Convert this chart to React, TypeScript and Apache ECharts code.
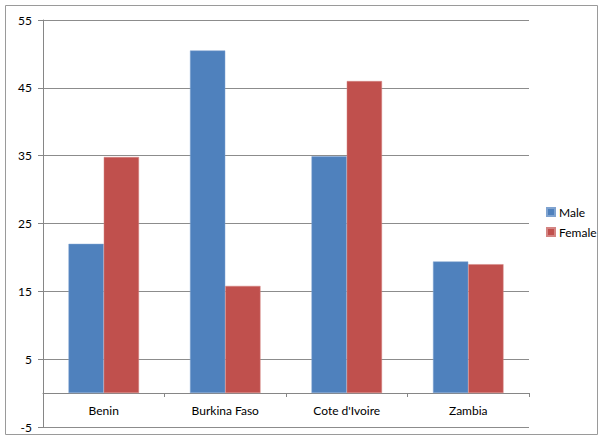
import React, { useEffect, useRef } from "react";
import * as echarts from "echarts";

const categories = ["Benin", "Burkina Faso", "Cote d'Ivoire", "Zambia"];
const maleValues = [22.0, 50.5, 34.9, 19.4];
const femaleValues = [34.8, 15.8, 46.0, 19.0];
const seriesNames = ["Male", "Female"];

export default function App() {
  const ref = useRef<HTMLDivElement>(null);
  useEffect(() => {
    if (!ref.current) return;
    const chart = echarts.init(ref.current, undefined, { renderer: "svg" });
    const font = "Lato, 'Noto Sans', sans-serif";
    chart.setOption({
      animation: false,
      backgroundColor: "#ffffff",
      textStyle: { fontFamily: font },
      graphic: [
        {
          type: "rect",
          shape: { x: 5.5, y: 5.5, width: 592, height: 429 },
          style: { fill: "none", stroke: "#9a9a9a", lineWidth: 1 },
          silent: true,
        },
      ],
      grid: { left: 43, top: 20, right: 71, bottom: 10, containLabel: false, outerBoundsMode: "none" },
      legend: {
        orient: "vertical",
        left: 546,
        top: 206,
        padding: 0,
        itemWidth: 8,
        itemHeight: 8,
        itemGap: 8,
        icon: "rect",
        data: seriesNames,
        textStyle: { fontFamily: font, fontSize: 12, color: "#000", padding: [0, 0, 0, -1] },
      },
      xAxis: {
        type: "category",
        data: categories,
        position: "bottom",
        offset: -34,
        axisLine: { onZero: false, lineStyle: { color: "#868686", width: 1 } },
        axisTick: { show: true, length: 4, lineStyle: { color: "#868686" } },
        axisLabel: { fontFamily: font, fontSize: 12, color: "#000", margin: 11 },
        splitLine: { show: false },
      },
      yAxis: {
        type: "value",
        min: -5,
        max: 55,
        interval: 10,
        axisLine: { show: true, lineStyle: { color: "#868686", width: 1 } },
        axisTick: { show: true, length: 5, lineStyle: { color: "#868686" } },
        axisLabel: { fontFamily: font, fontSize: 12, color: "#000", margin: 11 },
        splitLine: { show: true, lineStyle: { color: "#8c8c8c", width: 1 } },
      },
      series: [
        {
          name: seriesNames[0],
          type: "bar",
          data: maleValues,
          itemStyle: { color: "#4F81BD", borderColor: "#7fa3d0", borderWidth: 0.5 },
          barGap: "0%",
          barCategoryGap: "42%",
        },
        {
          name: seriesNames[1],
          type: "bar",
          data: femaleValues,
          itemStyle: { color: "#C0504D", borderColor: "#d48482", borderWidth: 0.5 },
          barGap: "0%",
          barCategoryGap: "42%",
        },
      ],
    });
    return () => chart.dispose();
  }, []);
  return <div ref={ref} style={{ width: 600, height: 437, position: "absolute", left: 0, top: 0 }} />;
}
